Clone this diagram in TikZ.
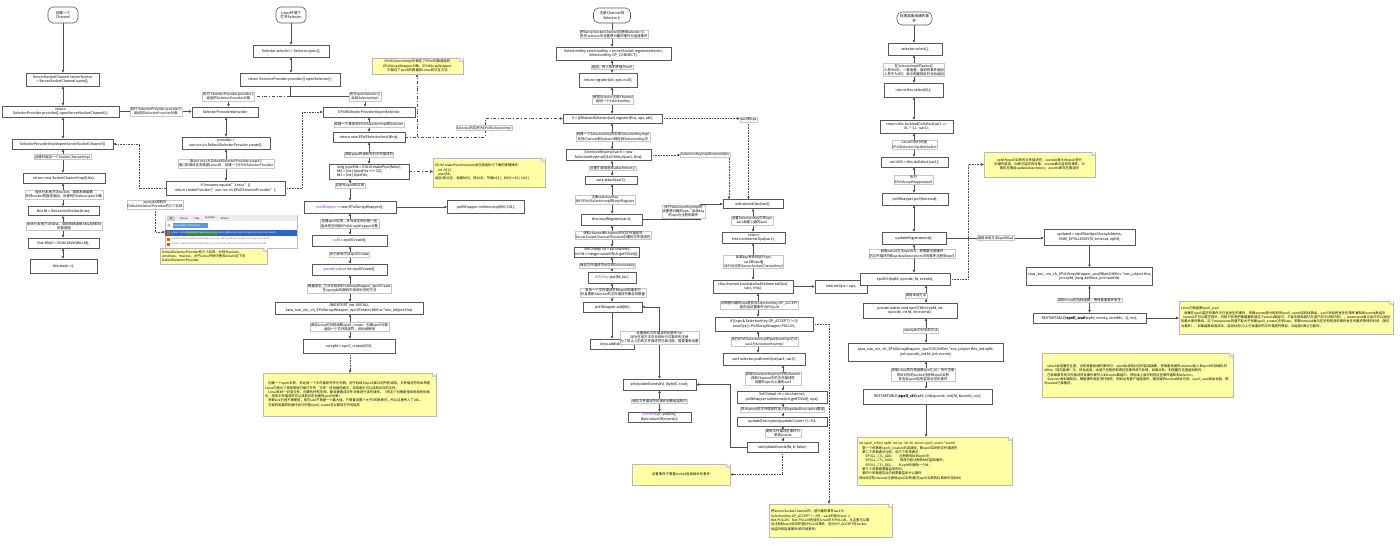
\documentclass[tikz,border=0pt]{standalone}
\usepackage{fontspec}
\setmainfont{Noto Sans CJK SC}
\XeTeXlinebreaklocale "zh"
\XeTeXlinebreakskip = 0pt plus 0.05pt
\usetikzlibrary{arrows.meta}
\definecolor{kw}{HTML}{8E2FC0}
\definecolor{kb}{HTML}{2A3FC0}
\definecolor{noteY}{HTML}{FFFFA6}
\definecolor{edge}{HTML}{505050}
\definecolor{hlA}{HTML}{5A95E6}
\definecolor{hlB}{HTML}{2E66C8}
\definecolor{hlC}{HTML}{3C8C46}
\pgfdeclarelayer{bg}
\pgfsetlayers{bg,main}
\newcommand\bfs{\fontsize{3.6}{4.4}\selectfont}
\newcommand\lfs{\fontsize{3.4}{4.1}\selectfont}
\newcommand\nfs{\fontsize{3.3}{4.3}\selectfont}
\newcommand\sfs{\fontsize{2.4}{2.8}\selectfont}
\newcommand\dogear[1]{%
 \fill[white] ([xshift=-4pt]#1.north east) -- (#1.north east) -- ([yshift=-4pt]#1.north east) -- cycle;
 \filldraw[draw=black!30,fill=black!8,line width=0.3pt] ([xshift=-4pt]#1.north east) -- ([xshift=-4pt,yshift=-4pt]#1.north east) -- ([yshift=-4pt]#1.north east) -- cycle;}
\tikzset{
 box/.style={draw=black!65, line width=0.6pt, fill=white, inner sep=1pt, align=center, font=\bfs},
 wh/.style 2 args={minimum width=#1pt, minimum height=#2pt},
 startbox/.style={box, rounded corners=5pt},
 lbl/.style={draw=black!22, line width=0.3pt, fill=white, inner sep=0.7pt, align=center, font=\lfs},
 note/.style={draw=black!28, line width=0.4pt, fill=noteY, inner sep=2pt, font=\nfs},
 ln/.style={draw=edge, line width=0.6pt},
 ar/.style={ln, -{Triangle[length=2.6pt,width=2.4pt]}},
 ab/.style={ln, {Triangle[length=2.6pt,width=2.4pt]}-{Triangle[length=2.6pt,width=2.4pt]}},
 dotl/.style={ar, densely dotted, line width=0.5pt},
 ddl/.style={ar, dash dot, line width=0.5pt},
}
\begin{document}
\begin{tikzpicture}[x=1pt,y=-1pt]
\useasboundingbox (0,0) rectangle (1400,545);
\begin{pgfonlayer}{bg}
\fill[white] (0,0) rectangle (1400,545);
\end{pgfonlayer}

% column x coordinates
\coordinate (x1) at (63,0);
\coordinate (x2a) at (291,0);
\coordinate (x2b) at (226,0);
\coordinate (x2c) at (369,0);
\coordinate (x2d) at (350,0);
\coordinate (x3) at (612,0);
\coordinate (x5) at (753,0);
\coordinate (x6) at (758,0);
\coordinate (x7) at (783,0);
\coordinate (x8) at (829,0);
\coordinate (x3c) at (729,0);
\coordinate (x9) at (914,0);
\coordinate (x10) at (926,0);

% ================= column 1
\node[startbox,wh={30}{16}] (c1s) at (63,15) {创建一个\\Channel};
\node[box,wh={73}{13}] (c1a) at (62.5,79.5) {ServerSocketChannel serverSocket\\= ServerSocketChannel.open();};
\node[box,wh={117}{11}] (c1b) at (60.5,111.5) {return\\SelectorProvider.provider().openServerSocketChannel();};
\node[box,wh={101}{10}] (c1c) at (62.5,144) {SelectorProviderImpl\#openServerSocketChannel()};
\node[lbl] (l1c) at (62.5,157) {创建并返回一个SocketChannelImpl};
\node[box,wh={82}{10}] (c1d) at (64,178) {return new SocketChannelImpl(this);};
\node[lbl] (l1d) at (64,194.5) {会执行本地方法socket，调用系统函数\\并将socket的描述返回，创建的FileDescriptor对象};
\node[box,wh={71}{9}] (c1e) at (63.5,211) {this.fd = Net.serverSocket(true);};
\node[lbl] (l1e) at (64,226) {会执行本地方法fdVal，调用系统函数 fdVal获取fd\\的整型值};
\node[box,wh={71}{10}] (c1f) at (63.5,243) {this.fdVal = IOUtil.fdVal(this.fd);};
\node[box,wh={67}{14}] (c1g) at (63.5,266) {this.state = 0;};
\node[lbl] (l1b) at (156,111.5) {执行 SelectorProvider.provider()\\返回的SelectorProvider对象};

% ================= column 2
\node[startbox,wh={30}{16}] (c2s) at (291,15) {Linux环境下\\打开Selector};
\node[box,wh={76}{12}] (c2a) at (291,51) {Selector selector = Selector.open();};
\node[box,wh={100}{13}] (c2b) at (290,79.5) {return SelectorProvider.provider().openSelector();};
\node[lbl] (l2a) at (228.5,96.5) {执行 SelectorProvider.provider()\\返回的SelectorProvider对象};
\node[lbl] (l2b) at (365,96.5) {执行openSelector()\\返回SelectorImpl};
\node[box,wh={66}{10}] (c2prov) at (225,112) {SelectorProvider\#provider};
\node[box,wh={88}{12}] (c2p2) at (226,143) {provider =\\sun.nio.ch.DefaultSelectorProvider.create();};
\node[lbl] (l2if) at (226,163.5) {由sun.nio.ch.DefaultSelectorProvider.create()\\接口的具体实现类是Linux时，创建一个EPollSelectorProvider};
\node[box,wh={119}{14}] (c2if) at (225.5,188) {if (osname.equals("Linux"))\\return createProvider("sun.nio.ch.EPollSelectorProvider");};
\node[lbl] (l2c) at (155,204.5) {openjdk源码中\\DefaultSelectorProvider的三个实现};

% screenshot of IDE search
\node[draw=black!25, fill=white, line width=0.4pt, minimum width=132pt, minimum height=33pt, inner sep=0] (shot) at (231,231.5) {};
\coordinate (shotin) at (165,232);
\fill[black!7] (165.3,215.3) rectangle (296.7,221.3);
\fill[black!18] (167,216) rectangle (175,220.6);
\node[font=\sfs,inner sep=0] at (171,218.3) {All};
\node[font=\sfs,inner sep=0] at (184,218.3) {Classes};
\node[font=\sfs,inner sep=0] at (197,218.3) {Files};
\node[font=\sfs,inner sep=0] at (210,218.3) {Symbols};
\node[font=\sfs,inner sep=0] at (225,218.3) {Actions};
\draw[black!50,line width=0.3pt] (168.8,225) circle (1.1);
\draw[black!50,line width=0.3pt] (169.6,225.8) -- (170.6,226.8);
\fill[hlA] (173,223.2) rectangle (208,228.2);
\node[font=\sfs,inner sep=0,anchor=west,text=white] at (173.5,225.7) {DefaultSelectorProvider};
\fill[hlB] (165.3,230.3) rectangle (296.7,236);
\fill[hlC] (186,231) rectangle (218,235.3);
\fill[orange!80!black] (167,231.4) rectangle (170,234.9);
\node[font=\sfs,inner sep=0,anchor=west,text=white] at (171,233.2) {solaris/  DefaultSelectorProvider.java (sun.nio.ch)  jdk8u-dev/jdk/src/solaris/classes/sun/nio/ch};
\fill[orange!80!black] (167,237.6) rectangle (170,240.8);
\node[font=\sfs,inner sep=0,anchor=west,text=black!55] at (171,239.2) {windows/  DefaultSelectorProvider.java (sun.nio.ch)  jdk/src/windows/classes/sun/nio/ch};
\fill[orange!80!black] (167,242.6) rectangle (170,245.8);
\node[font=\sfs,inner sep=0,anchor=west,text=black!55] at (171,244.2) {macosx/  DefaultSelectorProvider.java (sun.nio.ch)  jdk/src/macosx/classes/sun/nio/ch};

\node[note,text width=103pt,align=left,minimum height=16pt] (n3) at (213.5,256) {DefaultSelectorProvider有三个实现，分别为solaris、\\windows、macosx，对于Linux环境中使用solaris包下的\\DefaultSelectorProvider};

\node[box,wh={92}{10}] (c2e) at (369,112) {EPollSelectorProvider\#openSelector};
\node[lbl] (l2e) at (369,124.5) {构建一个具体的EPollSelectorImpl的Selector};
\node[box,wh={72}{10}] (c2f) at (369,137) {return new EPollSelectorImpl(this);};
\node[lbl] (l2f) at (369,154.5) {获取pipe的读和写的文件描述符};
\node[box,wh={80}{15},align=left] (c2g) at (369,171.5) {long pipeFds = IOUtil.makePipe(false);\\fd0 = (int) (pipeFds >{}>{}> 32);\\fd1 = (int) pipeFds;};
\node[lbl] (l2g) at (350,185.5) {实例化epoll的实现};
\node[box,wh={92}{12}] (c2h) at (350,207) {\textcolor{kw}{pollWrapper} = new EPollArrayWrapper();};
\node[box,wh={77}{13}] (c2h2) at (486,207) {pollWrapper.initInterrupt(fd0, fd1);};
\node[lbl] (l2h) at (349.5,224) {创建epoll实例，并为该实例分配一些\\连续的空间给EPollArrayWrapper对象};
\node[box,wh={75}{11}] (c2i) at (349.5,240.5) {\textcolor{kw}{epfd} = epollCreate();};
\node[lbl] (l2i) at (349.5,254.5) {执行本地方法epollCreate};
\node[box,wh={75}{11}] (c2j) at (349.5,269.5) {\textcolor{kb}{private native} int epollCreate();};
\node[lbl] (l2j) at (349.5,288.5) {根据类名\_方法名找到EPollArrayWrapper\_epollCreate\\在openjdk的源码中找到对应的方法};
\node[box,wh={148}{12}] (c2k) at (349,308) {JNIEXPORT jint JNICALL\\Java\_sun\_nio\_ch\_EPollArrayWrapper\_epollCreate(JNIEnv *env, jobject this)};
\node[lbl] (l2k) at (349.5,327) {调用Linux的内核函数epoll\_create，创建epoll对象\\返回一个文件描述符，供后续使用};
\node[box,wh={92}{14}] (c2l) at (349,346) {int epfd = epoll\_create(256);};
\node[note,text width=169pt,align=left,minimum height=43pt] (n2) at (349.5,394.5) {\quad 创建一个epoll实例，并返回一个文件描述符作为句柄，用于后续对epoll接口的所有调用。文件描述符的本质是Linux内核为了高效管理已被打开的“文件”所创建的索引，用该索引可以找到对应的文件。\\
\quad Linux系统一切皆文件，创建的所有东西，都会被看成文件对象进行读写操作。（而这个句柄是指系统给你的索引，用该文件描述符可以找到对应创建的epoll对象）\\
\quad 参数size已经不再使用，现在size不再是一个最大值，只需要设置个大于0的数即可。所以这里传入了256。\\
\quad 在我的电脑的机器中执行的是epoll\_create可以看到打开的结构};
\node[note,text width=87pt,align=center,minimum height=16pt] (n1) at (417.5,66) {EPollSelectorImpl中保存了EPoll的数据结构\\EPollArrayWrapper对象，EPollArrayWrapper\\中保存了epoll的数据和Linux的交互方法};
\node[note,text width=108pt,align=left,minimum height=29pt] (n4) at (489,172.5) {IOUtil.makePipe(boolean)会在底层执行下面的逻辑操作：\\
\quad int fd[2];\\
\quad pipe(fd);\\
返回 高32位：读端fd[0]，低32位：写端fd[1]，fd[0]<{}<32 | fd[1]};
\node[lbl] (l2sel) at (484,128) {Selector的实例为EPollSelectorImpl};
\coordinate (k0) at (417,137);
\coordinate (k1) at (485,137);

% ================= column 3
\node[startbox,wh={37}{15}] (c3s) at (612,15.5) {注册Channel到\\Selector上};
\node[lbl] (l3a) at (614,34) {把ServerSocketChannel注册到selector上，\\并在selector中设置感兴趣的事件为连接事件};
\node[box,wh={115}{13}] (c3a) at (613.5,53.5) {SelectionKey selectionKey = serverSocket.register(selector,\\SelectionKey.OP\_CONNECT);};
\node[lbl] (l3b) at (612,67) {返回，传入的附件值为null};
\node[box,wh={58}{14}] (c3b) at (608,80) {return register(sel, ops, null);};
\node[lbl] (l3c) at (613,99.5) {使用Selector注册Channel\\返回一个SelectionKey};
\node[box,wh={99}{9}] (c3c) at (612.5,118.5) {k = ((AbstractSelector)sel).register(this, ops, att);};
\node[lbl] (l3d) at (613,137) {构建一个SelectionKey的实现SelectionKeyImpl\\并将Channel和Selector保存到SelectionKey中};
\node[box,wh={85}{11}] (c3d) at (608.5,155) {SelectionKeyImpl var4 = new\\SelectionKeyImpl((SelChImpl)var1, this);};
\node[lbl] (l3e) at (613,168) {设置扩展信息到attachment上};
\node[box,wh={52}{8}] (c3e) at (611,180) {var4.attach(var3);};
\node[lbl] (l3f0) at (605,199.5) {注册selectionKey\\执行EPollSelectorImpl的implRegister};
\node[box,wh={61}{11}] (c3f) at (611.5,219.5) {this.implRegister(var4);};
\node[lbl] (l3g) at (613,235) {获取channel和channel中的文件描述符\\ServerSocketChannel中socket创建的文件描述符};
\node[box,wh={64}{10}] (c3g) at (607,252) {SelChImpl ch = ski.channel;\\int fd = Integer.valueOf(ch.getFDVal());};
\node[lbl] (l3h) at (607.5,265.5) {保存文件描述符对应的SelectionKey};
\node[box,wh={48}{11}] (c3h) at (612,277.5) {\textcolor{kw}{fdToKey}.put(fd, ski);};
\node[lbl] (l3i0) at (613,292.5) {添加一个文件描述符到epoll的缓冲中\\并且更新Selector的文件描述符集合的数量};
\node[box,wh={59}{10}] (c3i) at (612.5,307) {pollWrapper.add(fd);};
\node[box,wh={44}{10}] (c3j) at (612,344) {keys.add(ski);};
\node[lbl] (l3k) at (659.5,337.5) {设置新的文件描述符的事件为0\\因为在该方法中没有执行过事件的注册\\为了防止之前的文件描述符已被注册，需要重新设置};
\node[box,wh={73}{11}] (c3k) at (659.5,384.5) {setUpdateEvents(fd, (byte)0, true);};
\node[lbl] (l3l) at (659.5,401) {保存文件描述符的事件到数组结构中};
\node[box,wh={63}{10}] (c3l) at (659.5,417) {\textcolor{kw}{eventsHigh}.put(key,\\Byte.valueOf(events));};
\node[note,text width=94pt,align=center,minimum height=21pt] (n5) at (681,474.5) {设置事件不需要socket连接相关的事件};

\node[lbl] (l3v) at (748.5,119.5) {var2即ops};
\node[lbl] (l3i) at (705,155) {SelectionKeyImpl\#interestOps};
\node[lbl] (l3f) at (683.5,211.5) {执行SelectionKeyImpl的\\设置感兴趣的ops，后续key\\的ops为注册的事件};
\node[box,wh={60}{9}] (c3m) at (753,204) {setInterestOps(var2);};
\node[lbl] (l3m) at (752,220.5) {设置SelectionKey中的ops\\var1就是上面的var2};
\node[box,wh={63}{11}] (c3n) at (753.5,237.5) {return\\this.nioInterestOps(var1);};
\node[lbl] (l3n) at (753.5,262) {如果key有效则执行ops\\var1即ops值\\执行对应的ServerSocketChannelImpl};
\node[box,wh={80}{13}] (c3o) at (753,286.5) {this.channel.translateAndSetInterestOps(\\var1, this);};
\node[box,wh={52}{13}] (c3p) at (841,286.5) {interestOps = ops;};
\node[lbl] (l3o) at (759.5,305) {判断感兴趣的ops是否为SelectionKey.OP\_ACCEPT\\是的话设置事件为POLLIN};
\node[box,wh={98}{14}] (c3q) at (764,324) {if ((ops \& SelectionKey.OP\_ACCEPT) != 0)\\newOps |= PollArrayWrapper.POLLIN;};
\node[lbl] (l3q) at (764.5,342) {执行EPollSelectorImpl的putEventOps方法\\var2为SelectionKeyImpl};
\node[box,wh={82}{12}] (c3r) at (764,359) {var3.selector.putEventOps(var2, var3);};
\node[lbl] (l3r) at (773,378.5) {获取SelectionKeyImpl中的channel\\获取Channel中的文件描述符\\设置的ops为上面的var3};
\node[box,wh={90}{12}] (c3s2) at (782,397) {SelChImpl ch = ski.channel;\\pollWrapper.setInterest(ch.getFDVal(), ops);};
\node[lbl] (l3s) at (782.5,409.5) {将channel的文件描述符加入到updateDescriptors数组};
\node[box,wh={90}{9}] (c3t) at (782,421.5) {updateDescriptors[updateCount++] = fd;};
\node[lbl] (l3t) at (783,433) {更新文件描述符事件为\\新的events};
\node[box,wh={71}{10}] (c3u) at (782.5,447) {setUpdateEvents(fd, b, false);};
\node[note,text width=119pt,align=left,minimum height=33pt] (n6) at (830.5,520.5) {把ServerSocketChannel的，感兴趣的事件var1为\\
SelectionKey.OP\_ACCEPT != 0时，var3的值为var1 |=\\
Net.POLLIN，Net.POLLIN的值在Linux中为POLLIN，从这里可以看\\
出注册到epoll实例的是EPOLLIN事件，因为OP\_ACCEPT时socket\\
会监听到连接事件(即可读事件)};
\coordinate (k3) at (730,447);
\coordinate (k4) at (700,219.5);

% ================= column 4
\node[startbox,wh={35}{13}] (c4s) at (914.5,18.5) {处理准备就绪的事\\件};
\node[box,wh={54}{12}] (c4a) at (915,49) {selector.select();};
\node[lbl] (l4a) at (914,70) {在SelectorImpl的select()\\入参为0时，一直阻塞，直到有事件返回\\入参不为0时，表示阻塞指定时长后返回};
\node[box,wh={59}{14}] (c4b) at (913.5,90) {return this.select(0L);};
\node[box,wh={73}{13}] (c4c) at (916.5,126.5) {return this.lockAndDoSelect(var1 ==\\0L ? -1L : var1);};
\node[lbl] (l4c) at (914.5,145) {Linux中执行的是\\EPollSelectorImpl\#doSelect};
\node[box,wh={67}{10}] (c4d) at (914.5,162) {var1000 = this.doSelect(var1);};
\node[lbl] (l4d) at (913.5,180) {执行\\EPollArrayWrapper\#poll};
\node[box,wh={66}{12}] (c4e) at (915,199) {pollWrapper.poll(timeout);};
\node[box,wh={64}{12}] (c4f) at (914,238) {updateRegistrations();};
\node[lbl] (l4f) at (912,254) {调用native方法epollCtl，把需要注册事件\\的文件描述符和updateDescriptors中的事件注册到epoll};
\node[box,wh={90}{12}] (c4g) at (905,279) {epollCtl(epfd, opcode, fd, events);};
\node[lbl] (l4g) at (916,295.5) {调用本地方法};
\node[box,wh={94}{15}] (c4h) at (910,310.5) {private native void epollCtl(int epfd, int\\opcode, int fd, int events);};
\node[lbl] (l4h) at (921,330.5) {openjdk中对应的方法};
\node[box,wh={155}{18}] (c4i) at (925.5,352) {Java\_sun\_nio\_ch\_EPollArrayWrapper\_epollCtl(JNIEnv *env, jobject this, jint epfd,\\jint opcode, jint fd, jint events)};
\node[lbl] (l4i) at (923,375) {调用Linux的内核函数epoll\_ctl，执行注册\\将fd对应的socket注册到epoll实例\\并告诉epoll实例监听对应的事件};
\node[box,wh={129}{15}] (c4j) at (927.5,396.5) {RESTARTABLE(\textbf{epoll\_ctl}(epfd, (int)opcode, (int)fd, \&event), res);};
\node[note,text width=151pt,align=left,minimum height=48pt] (n8) at (934.5,461) {int epoll\_ctl(int epfd, int op, int fd, struct epoll\_event *event)\\
\quad 第一个参数是epoll\_create()的返回值，即epoll实例的文件描述符\\
\quad 第二个参数表示动作，用三个宏来表示：\\
\qquad EPOLL\_CTL\_ADD:\qquad 注册新的fd到epfd中；\\
\qquad EPOLL\_CTL\_MOD:\qquad 修改已经注册的fd的监听事件；\\
\qquad EPOLL\_CTL\_DEL:\qquad 从epfd中删除一个fd；\\
\quad 第三个参数是需要监听的fd；\\
\quad 第四个参数是告诉内核需要监听什么事件\\
将fd对应的channel注册到epoll实例(即在epoll实例的红黑树中添加fd)};
\node[note,text width=107pt,align=center,minimum height=25pt] (n7) at (1039.5,164.5) {epfd为epoll实例的文件描述符，opcode表示对epoll进行\\的操作类型，fd表示监听的对象，events表示监听的事件，fd\\保存在数组updateDescriptors，events保存在数组中};
\node[lbl] (l4k) at (995.5,238) {调用本地方法epollWait};
\node[box,wh={91}{16}] (c4k) at (1089.5,237) {updated = epollWait(pollArrayAddress,\\NUM\_EPOLLEVENTS, timeout, epfd);};
\node[box,wh={117}{18}] (c4l) at (1089.5,276.5) {Java\_sun\_nio\_ch\_EPollArrayWrapper\_epollWait(JNIEnv *env, jobject this,\\jint epfd, jlong address, jint numfds)};
\node[lbl] (l4l) at (1089.5,300) {调用Linux的内核函数，等待准备事件发生};
\node[box,wh={113}{10}] (c4m) at (1089.5,318) {RESTARTABLE(\textbf{epoll\_wait}(epfd, events, numfds, -1), res);};
\node[note,text width=210pt,align=left,minimum height=33pt] (n9) at (1286,317.5) {Linux内核函数epoll\_wait\\
\quad 收集在epoll监控的事件中已经发生的事件，参数events是分配好的epoll\_event结构体数组，epoll将会把发生的事件复制到events数组中（events不可以是空指针，内核只负责把数据复制到这个events数组中，不会去帮助我们在用户态中分配内存），maxevents表示本次可以返回的最大事件数目，这个maxevents的值不能大于创建epoll\_create()时的size，参数timeout表示在没有检测到事件发生时最多等待的时间（单位为毫秒），如果函数调用成功，返回对应I/O上已准备好的文件描述符数目，如返回0表示已超时。};
\node[note,text width=187pt,align=left,minimum height=44pt] (n10) at (1137.5,375) {\quad select会阻塞在这里，当有准备就绪的事件时，epoll会调用对应的回调函数，把准备就绪的channel加入到epoll的就绪队列rdllist（双向链表）中，然后返回，由用户态程序取得这些事件进行处理，如果没有，则阻塞在这里直到超时。\\
\quad 已就绪事件的文件描述符及事件被写入到events数组中，然后由上层代码将这些事件通知到selector。\\
\quad Selector收到通知后，根据事件类型进行操作，例如当有客户端连接时，服务端的socket就会可读，epoll\_wait就会返回，即为socket已准备好。};

% dog-ears
\dogear{n1}\dogear{n2}\dogear{n3}\dogear{n4}\dogear{n5}\dogear{n6}\dogear{n7}\dogear{n8}\dogear{n9}\dogear{n10}

% ================= connectors
\begin{pgfonlayer}{bg}
% column 1
\draw[ar] (c1s.south -| x1) -- (c1a.north -| x1);
\draw[ab] (c1a.south -| x1) -- (c1b.north -| x1);
\draw[ab] (c1b.south -| x1) -- (c1c.north -| x1);
\draw[ab] (c1c.south -| x1) -- (c1d.north -| x1);
\draw[ab] (c1d.south -| x1) -- (c1e.north -| x1);
\draw[ab] (c1e.south -| x1) -- (c1f.north -| x1);
\draw[ab] (c1f.south -| x1) -- (c1g.north -| x1);
\draw[ar] (c1b.east) -- (c1b.east -| c2prov.west);
% column 2
\draw[ar] (c2s.south -| x2a) -- (c2a.north -| x2a);
\draw[ab] (c2a.south -| x2a) -- (c2b.north -| x2a);
\draw[ln] (c2b.south) |- (l2b.west);
\draw[ar] (l2b.south) -- (l2b.south |- c2e.north);
\draw[ln, dash dot, line width=0.5pt] (c2b.south |- l2a.east) -- (l2a.east);
\draw[ar] (l2a.south) -- (l2a.south |- c2prov.north);
\draw[ab] (c2prov.south -| x2b) -- (c2p2.north -| x2b);
\draw[ab] (c2p2.south -| x2b) -- (c2if.north -| x2b);
\draw[dotl] (c2if.west) -- ++(-26,0) |- (c1c.east);
\draw[dotl] (c2if.east) -- ++(17,0) |- (c2e.west);
\draw[dotl] (l2c.south) |- (shotin);
\draw[ab] (c2e.south -| x2c) -- (c2f.north -| x2c);
\draw[ab] (c2f.south -| x2c) -- (c2g.north -| x2c);
\draw[ab] (c2g.south -| x2d) -- (c2h.north -| x2d);
\draw[ar] (c2h.east) -- (c2h2.west);
\draw[ab] (c2h.south -| x2d) -- (c2i.north -| x2d);
\draw[ab] (c2i.south -| x2d) -- (c2j.north -| x2d);
\draw[ab] (c2j.south -| x2d) -- (c2k.north -| x2d);
\draw[ab] (c2k.south -| x2d) -- (c2l.north -| x2d);
\draw[dotl] (c2l.south -| x2d) -- (n2.north -| x2d);
\draw[ddl] (c2g.east) -- (c2g.east -| n4.west);
\draw[ddl] (c2f.east) -- (k1) |- (c3c.west);
\draw[ddl] (k0) -- (k0 |- n1.south);
% column 3
\draw[ar] (c3s.south -| x3) -- (c3a.north -| x3);
\draw[ab] (c3a.south -| x3) -- (c3b.north -| x3);
\draw[ab] (c3b.south -| x3) -- (c3c.north -| x3);
\draw[ab] (c3c.south -| x3) -- (c3d.north -| x3);
\draw[ab] (c3d.south -| x3) -- (c3e.north -| x3);
\draw[ab] (c3e.south -| x3) -- (c3f.north -| x3);
\draw[ab] (c3f.south -| x3) -- (c3g.north -| x3);
\draw[ab] (c3g.south -| x3) -- (c3h.north -| x3);
\draw[ab] (c3h.south -| x3) -- (c3i.north -| x3);
\draw[ar] (c3i.south -| x3) -- (c3j.north -| x3);
\draw[ab] (c3i.east) -| (c3k.north);
\draw[ab] (c3k.south) -- (c3l.north);
\draw[ar] (c3u.west) -- (k3) |- (c3k.east);
\draw[dotl] (c3u.south) |- (n5.east);
\draw[dotl] (c3c.east) -- (c3c.east -| l3v.west);
\draw[dotl] (l3v.south) -- (l3v.south |- c3m.north);
\draw[dotl] (c3d.east) -- (c3d.east -| l3i.west);
\draw[dotl] (l3i.south -| x3c) -- (c3m.north -| x3c);
\draw[ar] (c3f.east) -- (k4) |- (c3m.west);
\draw[ab] (c3m.south -| x5) -- (c3n.north -| x5);
\draw[ab] (c3n.south -| x5) -- (c3o.north -| x5);
\draw[ar] (c3o.east) -- (c3p.west);
\draw[ab] (c3o.south -| x6) -- (c3q.north -| x6);
\draw[ab] (c3q.south -| x6) -- (c3r.north -| x6);
\draw[ab] (c3r.south -| x7) -- (c3s2.north -| x7);
\draw[ab] (c3s2.south -| x7) -- (c3t.north -| x7);
\draw[ab] (c3t.south -| x7) -- (c3u.north -| x7);
\draw[dotl] (c3q.east) -| (n6.north -| x8);
% column 4
\draw[ar] (c4s.south -| x9) -- (c4a.north -| x9);
\draw[ab] (c4a.south -| x9) -- (c4b.north -| x9);
\draw[ab] (c4b.south -| x9) -- (c4c.north -| x9);
\draw[ab] (c4c.south -| x9) -- (c4d.north -| x9);
\draw[ab] (c4d.south -| x9) -- (c4e.north -| x9);
\draw[ab] (c4e.south -| x9) -- (c4f.north -| x9);
\draw[ab] (c4f.south -| x9) -- (c4g.north -| x9);
\draw[ab] (c4g.south -| x10) -- (c4h.north -| x10);
\draw[ab] (c4h.south -| x10) -- (c4i.north -| x10);
\draw[ab] (c4i.south -| x10) -- (c4j.north -| x10);
\draw[ar] (c4j.south -| x10) -- (n8.north -| x10);
\draw[dotl] (c4g.east) -- ++(18,0) |- (n7.west);
\draw[ar] (c4f.east) -- (c4f.east -| c4k.west);
\draw[ar] (c4k.south) -- (c4k.south |- c4l.north);
\draw[ab] (c4l.south) -- (c4l.south |- c4m.north);
\draw[ar] (c4m.east) -- (c4m.east -| n9.west);
\end{pgfonlayer}
\end{tikzpicture}
\end{document}
